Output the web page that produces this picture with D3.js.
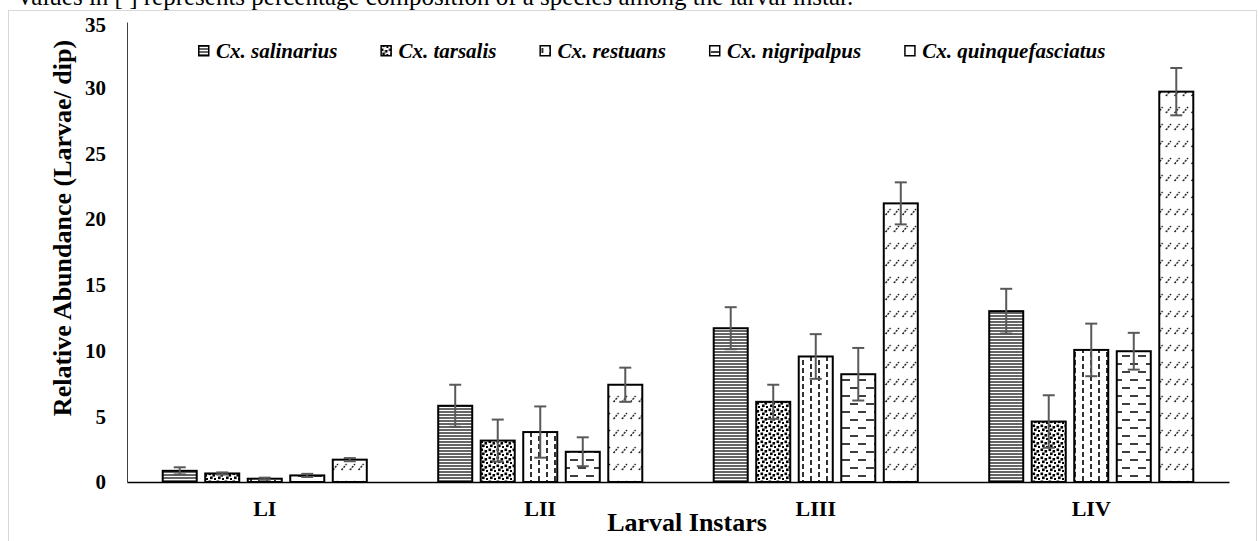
<!DOCTYPE html>
<html>
<head>
<meta charset="utf-8">
<script src="https://cdn.jsdelivr.net/npm/d3@7"></script>
<style>
  body { margin: 0; background: #fff; }
  svg text { font-family: "Liberation Serif", "Times New Roman", serif; }
</style>
</head>
<body>
<svg id="chart"></svg>
<script>
// larval instars and species
var instars = ["LI", "LII", "LIII", "LIV"];
var species = ["Cx. salinarius", "Cx. tarsalis", "Cx. restuans", "Cx. nigripalpus", "Cx. quinquefasciatus"];

// mean larvae per dip, one array per species (LI..LIV)
var salinarius      = [0.85, 5.8, 11.7, 13.0];
var tarsalis        = [0.65, 3.15, 6.1, 4.6];
var restuans        = [0.25, 3.8, 9.55, 10.05];
var nigripalpus     = [0.5, 2.3, 8.2, 9.95];
var quinquefasciatus = [1.7, 7.4, 21.2, 29.7];

// error (+/-)
var salinariusErr   = [0.27, 1.6, 1.6, 1.7];
var tarsalisErr     = [0.08, 1.6, 1.3, 2.0];
var restuansErr     = [0.08, 1.95, 1.7, 2.0];
var nigripalpusErr  = [0.12, 1.1, 2.0, 1.4];
var quinqueErr      = [0.12, 1.3, 1.6, 1.8];

var yTicks = [0, 5, 10, 15, 20, 25, 30, 35];

var values = [salinarius, tarsalis, restuans, nigripalpus, quinquefasciatus];
var errors = [salinariusErr, tarsalisErr, restuansErr, nigripalpusErr, quinqueErr];
var patternIds = ["p-hline", "p-confetti", "p-vdash", "p-hdash", "p-diag"];

var serif = "Liberation Serif";
var width = 1258, height = 541;
var svg = d3.select("#chart").attr("width", width).attr("height", height);

// patterns
var defs = svg.append("defs");

var p = defs.append("pattern").attr("id", "p-hline").attr("patternUnits", "userSpaceOnUse")
  .attr("width", 6).attr("height", 3);
p.append("rect").attr("width", 6).attr("height", 3).attr("fill", "#fff");
p.append("line").attr("x1", 0).attr("x2", 6).attr("y1", 1).attr("y2", 1)
  .attr("stroke", "#000").attr("stroke-width", 1.2);

p = defs.append("pattern").attr("id", "p-confetti").attr("patternUnits", "userSpaceOnUse")
  .attr("width", 8).attr("height", 8);
p.append("rect").attr("width", 8).attr("height", 8).attr("fill", "#fff");
[[0.5, 0.5], [4.5, 2], [2, 4.5], [6, 6]].forEach(function(c) {
  p.append("rect").attr("x", c[0]).attr("y", c[1]).attr("width", 2.6).attr("height", 2.6).attr("fill", "#000");
});

p = defs.append("pattern").attr("id", "p-vdash").attr("patternUnits", "userSpaceOnUse")
  .attr("width", 16).attr("height", 16);
p.append("rect").attr("width", 16).attr("height", 16).attr("fill", "#fff");
p.append("path").attr("d", "M3,0V5M3,8V13M11,4V9M11,12V16M11,-1V1")
  .attr("stroke", "#000").attr("stroke-width", 1.6);

p = defs.append("pattern").attr("id", "p-hdash").attr("patternUnits", "userSpaceOnUse")
  .attr("width", 16).attr("height", 16);
p.append("rect").attr("width", 16).attr("height", 16).attr("fill", "#fff");
p.append("path").attr("d", "M2,4H10M10,12H16M0,12H2")
  .attr("stroke", "#000").attr("stroke-width", 1.6);

p = defs.append("pattern").attr("id", "p-diag").attr("patternUnits", "userSpaceOnUse")
  .attr("width", 8.5).attr("height", 17);
p.append("rect").attr("width", 8.5).attr("height", 17).attr("fill", "#fff");
p.append("path").attr("d", "M1.5,11L6.5,5")
  .attr("stroke", "#000").attr("stroke-width", 1.3).attr("stroke-dasharray", "2,1.2");

// header line, partly clipped at top as in the source
svg.append("text").attr("x", 16).attr("y", 5)
  .style("font-family", serif).style("font-size", "25px").attr("fill", "#000")
  .text("Values in [ ] represents percentage composition of a species among the larval instar.");

svg.append("rect").attr("x", 8.5).attr("y", 10.5).attr("width", 1248).attr("height", 600)
  .attr("fill", "#fff").attr("stroke", "#d9d9d9").attr("stroke-width", 1);

// scales
var x0 = d3.scaleBand().domain(instars).range([127, 1229]).padding(0);
var x1 = d3.scaleBand().domain(species).range([0, x0.bandwidth()])
  .paddingInner(0.2).paddingOuter(0.84);
var y = d3.scaleLinear().domain([0, 35]).range([482, 22]);

// y axis
var yAxis = svg.append("g").attr("transform", "translate(127,0)")
  .call(d3.axisLeft(y).tickValues(yTicks).tickSize(0).tickPadding(21));
yAxis.attr("font-family", null);
yAxis.select(".domain").attr("stroke", "#404040").attr("stroke-width", 1);
yAxis.selectAll("text").style("font-size", "21px").style("font-weight", "bold")
  .style("font-family", serif).attr("fill", "#000");
yAxis.selectAll(".tick").filter(function(d) { return d === 35; }).select("text").attr("dy", "0.45em");

// x axis
var xAxis = svg.append("g").attr("transform", "translate(0,482)")
  .call(d3.axisBottom(x0).tickSize(0).tickPadding(18));
xAxis.attr("font-family", null);
xAxis.select(".domain").attr("stroke", "#000").attr("stroke-width", 1.5);
xAxis.selectAll("text").style("font-size", "22px").style("font-weight", "bold")
  .style("font-family", serif).attr("fill", "#000");

// bars
var rows = [];
species.forEach(function(s, si) {
  instars.forEach(function(g, gi) {
    rows.push({ s: s, si: si, g: g, v: values[si][gi], e: errors[si][gi] });
  });
});

svg.append("g").selectAll("rect").data(rows).enter().append("rect")
  .attr("x", function(d) { return x0(d.g) + x1(d.s); })
  .attr("y", function(d) { return y(d.v); })
  .attr("width", x1.bandwidth())
  .attr("height", function(d) { return y(0) - y(d.v); })
  .attr("fill", function(d) { return "url(#" + patternIds[d.si] + ")"; })
  .attr("stroke", "#000").attr("stroke-width", 2);

// error bars
var eb = svg.append("g").attr("stroke", "#595959").attr("stroke-width", 2);
rows.forEach(function(d) {
  var cx = x0(d.g) + x1(d.s) + x1.bandwidth() / 2;
  var top = y(d.v + d.e), bot = y(d.v - d.e);
  eb.append("line").attr("x1", cx).attr("x2", cx).attr("y1", top).attr("y2", bot);
  eb.append("line").attr("x1", cx - 6).attr("x2", cx + 6).attr("y1", top).attr("y2", top);
  eb.append("line").attr("x1", cx - 6).attr("x2", cx + 6).attr("y1", bot).attr("y2", bot);
});

// axis titles
svg.append("text")
  .attr("transform", "translate(71,228) rotate(-90)")
  .attr("text-anchor", "middle")
  .style("font-family", serif).style("font-size", "26px").style("font-weight", "bold")
  .text("Relative Abundance (Larvae/ dip)");

svg.append("text").attr("x", 687).attr("y", 531).attr("text-anchor", "middle")
  .style("font-family", serif).style("font-size", "26px").style("font-weight", "bold")
  .text("Larval Instars");

// legend
var legend = svg.append("g");
var lx = 198;
species.forEach(function(s, i) {
  var item = legend.append("g").attr("transform", "translate(" + lx + ",0)");
  item.append("rect").attr("x", 0.75).attr("y", 45.75).attr("width", 10).attr("height", 10)
    .attr("fill", "url(#" + patternIds[i] + ")").attr("stroke", "#000").attr("stroke-width", 1.5);
  var t = item.append("text").attr("x", 18).attr("y", 58)
    .style("font-family", serif).style("font-size", "21px")
    .style("font-weight", "bold").style("font-style", "italic")
    .text(s);
  lx += 18 + t.node().getComputedTextLength() + 43;
});
</script>
</body>
</html>
